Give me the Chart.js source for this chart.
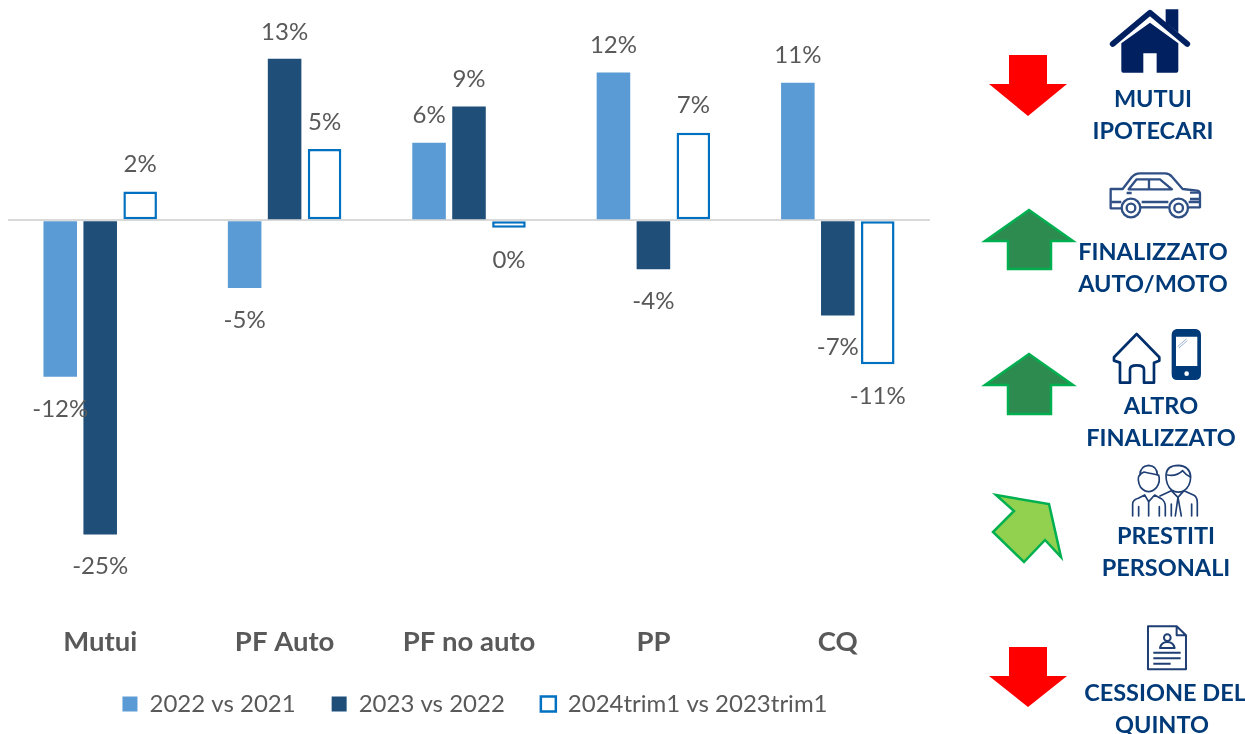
<!DOCTYPE html>
<html>
<head>
<meta charset="utf-8">
<script src="https://cdn.jsdelivr.net/npm/chart.js@4"></script>
<style>
  html, body { margin: 0; background: #fff; overflow: hidden; }
  #wrap { position: relative; width: 1245px; height: 734px; }
  #side { position: absolute; left: 0; top: 0; }
  #side text { font-family: Lato, sans-serif; font-weight: 700; font-size: 23.5px; fill: #003a78; text-anchor: middle; }
</style>
</head>
<body>
<div id="wrap">
  <canvas id="trendChart" width="1245" height="734"></canvas>
  <svg id="side" width="1245" height="734" viewBox="0 0 1245 734">
    <!-- arrows -->
    <polygon fill="#ff0000" points="1009,55 1047,55 1047,84 1067,84 1028,116 989,84 1009,84"/>
    <polygon fill="#ff0000" points="1009,647 1047,647 1047,676 1067,676 1028,707 989,676 1009,676"/>
    <polygon fill="#2e8b4f" stroke="#00b050" stroke-width="2.5" points="1029,210 1073,241 1051,241 1051,269 1008,269 1008,241 985,241"/>
    <polygon fill="#2e8b4f" stroke="#00b050" stroke-width="2.5" points="1029,354 1073,385 1051,385 1051,414 1008,414 1008,385 985,385"/>
    <polygon fill="#92d050" stroke="#00b050" stroke-width="2.5" points="996,495 1049,504 1061,557 1045,540 1024,562 993,532 1014,511"/>

    <!-- house, drawn in 3x crop coordinates -->
    <g transform="translate(960,0) scale(0.3333)">
      <path fill="#002060" d="M617,28 h38 v70 l-38,-30 z"/>
      <path fill="none" stroke="#002060" stroke-width="17" stroke-linecap="round" stroke-linejoin="round" d="M458,132 L570,38 L682,132"/>
      <path fill="#002060" d="M484,130 L570,68 L655,130 V212 Q655,218 649,218 H590 V160 H550 V218 H490 Q484,218 484,212 Z"/>
      <!-- car -->
      <g fill="none" stroke="#2f4f85" stroke-width="7" stroke-linejoin="round">
        <path d="M484,625 H452 V567 H488 L515,532 Q525,520 540,520 H615 Q628,520 636,530 L668,567 L712,572 Q720,574 720,582 V622 H686"/>
        <path d="M542,622 H626"/>
        <path d="M506,568 L530,538 H600 L636,568 Z M567,538 V568"/>
        <path d="M500,579 H515 M690,578 H718 M690,597 H718 M454,606 H484 M545,606 H625 M686,606 H718"/>
        <circle cx="513" cy="624" r="28"/><circle cx="513" cy="624" r="13"/>
        <circle cx="656" cy="624" r="28"/><circle cx="656" cy="624" r="13"/>
      </g>
      <!-- small house and phone -->
      <path fill="none" stroke="#002f6c" stroke-width="8" stroke-linejoin="round" d="M530,1002 L598,1072 V1082 L582,1088 V1148 H552 V1108 Q552,1096 530,1096 Q510,1096 510,1108 V1148 H480 V1088 L462,1082 V1072 Z"/>
      <path fill="#003a78" fill-rule="evenodd" d="M650,987 H708 Q723,990 723,1005 V1122 Q723,1140 705,1140 H652 Q635,1140 635,1122 V1005 Q635,990 650,987 Z M648,1010 V1098 H712 V1010 Z"/>
      <path stroke="#9db4d6" stroke-width="3" d="M653,1040 L680,1016 M657,1044 L682,1022"/>
      <circle cx="680" cy="1121" r="7" fill="#fff"/>
    </g>

    <!-- people and document, second crop coordinates -->
    <g transform="translate(960,360) scale(0.3333)">
      <g fill="none" stroke="#1f3f74" stroke-width="5" stroke-linejoin="round" stroke-linecap="round">
        <path d="M540,345 Q540,318 566,316 Q592,318 592,345"/>
        <path d="M535,360 Q532,345 552,336 Q580,342 596,345 Q602,365 590,382 Q566,408 542,382 Q536,372 535,360 Z"/>
        <path d="M518,468 V432 Q518,420 535,415 L554,405 L566,425 L584,405 L604,416 Q616,424 616,440 V468"/>
        <path d="M566,425 V468 M536,440 V468 M598,440 V468"/>
        <path d="M618,345 Q620,316 655,316 Q690,318 692,350 Q692,378 672,392 Q652,402 635,390 Q618,376 618,345 Z"/>
        <path d="M622,345 Q650,350 668,332 Q678,345 690,350"/>
        <path d="M600,408 L634,392 L654,412 L672,392 L702,406 Q712,412 712,428 V468"/>
        <path d="M654,412 L646,468 M654,412 L664,468 M695,432 V468 M634,432 V468"/>
      </g>
      <g fill="none" stroke="#1f3f74" stroke-width="6" stroke-linejoin="round">
        <path d="M564,799 H650 L678,826 V928 H564 Z M650,799 V826 H678"/>
        <circle cx="622" cy="833" r="10"/>
        <path d="M600,864 Q604,846 622,846 Q640,846 644,864 Z"/>
        <path d="M580,878 H662 M580,895 H662 M580,911 H632"/>
      </g>
    </g>

    <text x="1153" y="107">MUTUI</text>
    <text x="1153" y="139">IPOTECARI</text>
    <text x="1153" y="260">FINALIZZATO</text>
    <text x="1153" y="292">AUTO/MOTO</text>
    <text x="1161" y="414">ALTRO</text>
    <text x="1161" y="446">FINALIZZATO</text>
    <text x="1166" y="544">PRESTITI</text>
    <text x="1166" y="576">PERSONALI</text>
    <text x="1165" y="701">CESSIONE DEL</text>
    <text x="1162" y="733">QUINTO</text>
  </svg>
</div>

<script>
const categories = ['Mutui', 'PF Auto', 'PF no auto', 'PP', 'CQ'];
const seriesNames = ['2022 vs 2021', '2023 vs 2022', '2024trim1 vs 2023trim1'];

// bar heights, in percent
const values2022 = [-12.5, -5.4, 6.2, 11.8, 11.0];
const values2023 = [-25.1, 12.9, 9.1, -3.9, -7.6];
const values2024 = [2.3, 5.7, -0.6, 7.0, -11.5];

// printed labels, as they appear in the picture
const labels2022 = ['-12%', '-5%', '6%', '12%', '11%'];
const labels2023 = ['-25%', '13%', '9%', '-4%', '-7%'];
const labels2024 = ['2%', '5%', '0%', '7%', '-11%'];

const textGrey = '#595959';
const fontFamily = 'Lato, sans-serif';

const barLabels = {
  id: 'barLabels',
  afterDatasetsDraw(chart) {
    const ctx = chart.ctx;
    ctx.save();
    ctx.font = '24px ' + fontFamily;
    ctx.fillStyle = textGrey;
    ctx.textAlign = 'center';
    ctx.textBaseline = 'middle';
    chart.data.datasets.forEach((ds, i) => {
      chart.getDatasetMeta(i).data.forEach((bar, j) => {
        const up = ds.data[j] >= 0;
        ctx.fillText(ds.printed[j], bar.x, bar.y + (up ? -27 : 32));
      });
    });
    ctx.restore();
  }
};

// the legend sits a little right of the plot centre
const legendShift = {
  id: 'legendShift',
  afterLayout(chart) {
    chart.legend.left += 6;
    chart.legend.right += 6;
  }
};

new Chart('trendChart', {
  type: 'bar',
  data: {
    labels: categories,
    datasets: [
      { label: seriesNames[0], data: values2022, printed: labels2022, backgroundColor: '#5b9bd5', borderWidth: 0 },
      { label: seriesNames[1], data: values2023, printed: labels2023, backgroundColor: '#1f4e79', borderWidth: 0 },
      { label: seriesNames[2], data: values2024, printed: labels2024, backgroundColor: '#ffffff', borderColor: '#0070c0', borderWidth: 2.5, borderSkipped: false }
    ]
  },
  options: {
    responsive: false,
    animation: false,
    categoryPercentage: 0.65,
    barPercentage: 0.84,
    layout: { padding: { left: 8, right: 315, top: 0, bottom: 8 } },
    scales: {
      x: {
        grid: { display: false },
        border: { display: false },
        ticks: { color: textGrey, font: { family: fontFamily, size: 27.5, weight: 'bold' }, padding: -3, maxRotation: 0 },
        afterFit(scale) { scale.height = 35; }
      },
      y: {
        min: -32,
        max: 17.6,
        afterFit(scale) { scale.width = 0; },
        ticks: { display: false, stepSize: 100 },
        border: { display: false },
        grid: {
          drawTicks: false,
          lineWidth: 2,
          color: (c) => (c.tick.value === 0 ? '#d9d9d9' : 'transparent')
        }
      }
    },
    plugins: {
      tooltip: { enabled: false },
      legend: {
        position: 'bottom',
        labels: { color: textGrey, boxWidth: 15, boxHeight: 15, padding: 36, font: { family: fontFamily, size: 24 } }
      }
    }
  },
  plugins: [barLabels, legendShift]
});
</script>
</body>
</html>
